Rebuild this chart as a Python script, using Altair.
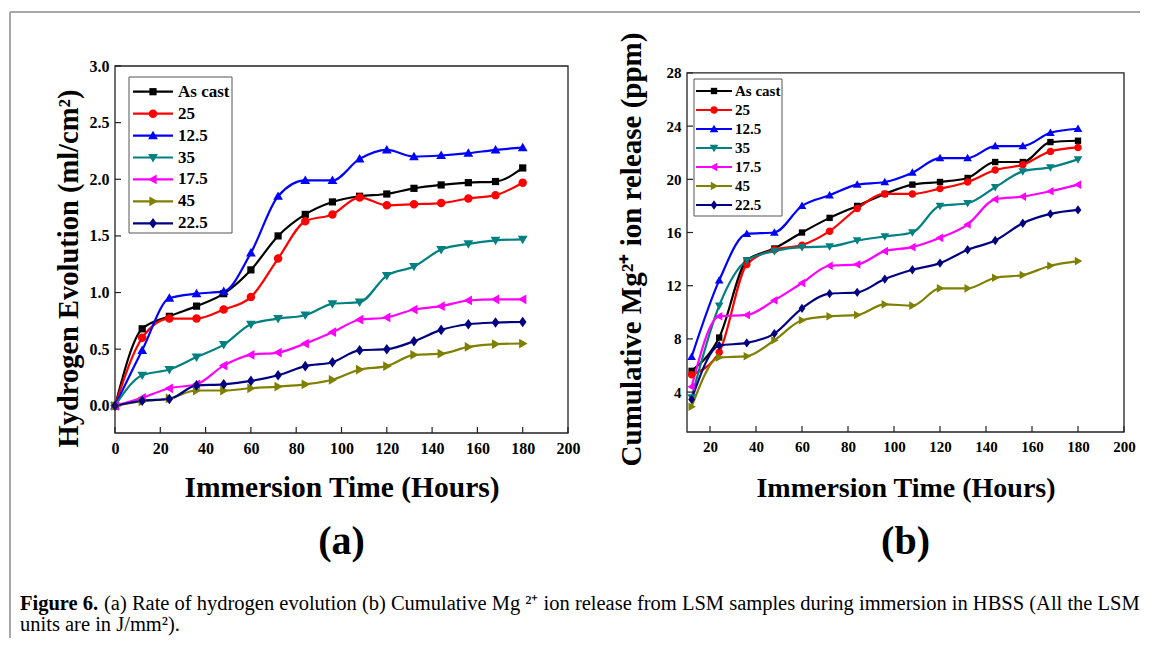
import altair as alt
import pandas as pd

FONT = "Liberation Serif"

series = ["As cast", "25", "12.5", "35", "17.5", "45", "22.5"]
series_colors = ["#000000", "#ff0000", "#0000ff", "#008080", "#ff00ff", "#808000", "#000080"]

# ---- panel (a): hydrogen evolution (ml/cm2) ----
time_a = [0, 12, 24, 36, 48, 60, 72, 84, 96, 108, 120, 132, 144, 156, 168, 180]
h2_as_cast = [0, 0.68, 0.79, 0.88, 0.99, 1.20, 1.50, 1.69, 1.80, 1.85, 1.87, 1.92, 1.95, 1.97, 1.98, 2.10]
h2_25 = [0, 0.60, 0.77, 0.77, 0.85, 0.96, 1.30, 1.63, 1.69, 1.84, 1.77, 1.78, 1.79, 1.83, 1.86, 1.97]
h2_12_5 = [0, 0.49, 0.95, 0.99, 1.01, 1.35, 1.85, 1.99, 1.99, 2.18, 2.26, 2.20, 2.21, 2.23, 2.26, 2.28]
h2_35 = [0, 0.27, 0.32, 0.43, 0.54, 0.72, 0.77, 0.80, 0.90, 0.915, 1.15, 1.23, 1.38, 1.43, 1.46, 1.47]
h2_17_5 = [0, 0.07, 0.155, 0.19, 0.355, 0.45, 0.47, 0.55, 0.65, 0.76, 0.78, 0.85, 0.88, 0.93, 0.94, 0.94]
h2_45 = [0, 0.04, 0.065, 0.135, 0.135, 0.155, 0.17, 0.19, 0.23, 0.32, 0.35, 0.45, 0.46, 0.52, 0.545, 0.55]
h2_22_5 = [0, 0.045, 0.06, 0.18, 0.19, 0.22, 0.27, 0.35, 0.385, 0.49, 0.50, 0.57, 0.67, 0.72, 0.735, 0.74]

# ---- panel (b): cumulative Mg2+ ion release (ppm) ----
time_b = [12, 24, 36, 48, 60, 72, 84, 96, 108, 120, 132, 144, 156, 168, 180]
mg_as_cast = [5.6, 8.1, 13.9, 14.8, 16.0, 17.1, 18.0, 18.9, 19.6, 19.8, 20.1, 21.3, 21.3, 22.8, 22.9]
mg_25 = [5.3, 7.0, 13.6, 14.7, 15.05, 16.1, 17.8, 18.9, 18.9, 19.3, 19.8, 20.7, 21.1, 22.1, 22.4]
mg_12_5 = [6.65, 12.4, 15.9, 16.0, 18.0, 18.8, 19.6, 19.8, 20.5, 21.6, 21.6, 22.5, 22.5, 23.5, 23.8]
mg_35 = [3.6, 10.5, 13.9, 14.6, 14.9, 14.95, 15.4, 15.7, 16.0, 18.0, 18.2, 19.4, 20.6, 20.9, 21.5]
mg_17_5 = [4.4, 9.7, 9.8, 10.9, 12.2, 13.5, 13.6, 14.6, 14.9, 15.6, 16.6, 18.5, 18.7, 19.1, 19.6]
mg_45 = [2.9, 6.6, 6.7, 7.9, 9.4, 9.7, 9.8, 10.6, 10.5, 11.8, 11.8, 12.6, 12.8, 13.5, 13.85]
mg_22_5 = [3.45, 7.5, 7.7, 8.4, 10.3, 11.4, 11.5, 12.5, 13.2, 13.7, 14.7, 15.4, 16.7, 17.4, 17.7]

x_ticks_a = [0, 20, 40, 60, 80, 100, 120, 140, 160, 180, 200]
y_ticks_a = [0.0, 0.5, 1.0, 1.5, 2.0, 2.5, 3.0]
x_ticks_b = [20, 40, 60, 80, 100, 120, 140, 160, 180, 200]
y_ticks_b = [4, 8, 12, 16, 20, 24, 28]

x_title = "Immersion Time (Hours)"
y_title_a = "Hydrogen Evolution (ml/cm²)"
y_title_b = "Cumulative Mg²⁺ ion release (ppm)"
caption_bold = "Figure 6."
caption_line1 = "(a) Rate of hydrogen evolution (b) Cumulative Mg ²⁺ ion release from LSM samples during immersion in HBSS (All the LSM"
caption_line2 = "units are in J/mm²)."

# marker outlines (square, circle, triangles up/down/left/right, diamond)
MARKERS = [
    "M-0.85,-0.85H0.85V0.85H-0.85Z",
    "M-1,0A1,1 0 1,0 1,0A1,1 0 1,0 -1,0Z",
    "M0,-1.15L1.15,0.85L-1.15,0.85Z",
    "M0,1.15L1.15,-0.85L-1.15,-0.85Z",
    "M-1.15,0L0.85,-1.15L0.85,1.15Z",
    "M1.15,0L-0.85,-1.15L-0.85,1.15Z",
    "M0,-1.25L0.9,0L0,1.25L-0.9,0Z",
]


def tidy(times, cols):
    rows = []
    for name, vals in zip(series, cols):
        for t, v in zip(times, vals):
            rows.append({"s": name, "t": t, "v": v})
    return pd.DataFrame(rows)


def panel(df, W, H, xdom, ydom, frame, xticks, yticks, yfmt, ytitle, ytpad, xtpad,
          label, label_off, msize, xtfs, ytfs, lab_fs, leg, ytitle_y=None):
    xs = alt.Scale(domain=xdom, nice=False, zero=False)
    ys = alt.Scale(domain=ydom, nice=False, zero=False)
    xaxis = alt.Axis(values=xticks, title=x_title, domain=False, ticks=False, tickSize=0,
                     grid=False, labelFont=FONT, labelFontWeight="bold", labelFontSize=lab_fs,
                     labelColor="black", labelPadding=7, labelFlush=False, labelOverlap=False,
                     titleFont=FONT, titleFontSize=xtfs, titleFontWeight="bold",
                     titleColor="black", titlePadding=xtpad)
    ykw = dict(values=yticks, format=yfmt, title=ytitle, domain=False, ticks=False,
               tickSize=0, grid=False, labelFont=FONT, labelFontWeight="bold",
               labelFontSize=lab_fs, labelColor="black", labelPadding=6,
               labelFlush=False, labelOverlap=False,
               titleFont=FONT, titleFontSize=ytfs, titleFontWeight="bold",
               titleColor="black", titlePadding=ytpad)
    if ytitle_y is not None:
        ykw["titleY"] = ytitle_y
    yaxis = alt.Axis(**ykw)
    X = alt.X("t:Q", scale=xs, axis=xaxis)
    Y = alt.Y("v:Q", scale=ys, axis=yaxis)
    C = alt.Color("s:N", scale=alt.Scale(domain=series, range=series_colors), legend=None)
    S = alt.Shape("s:N", scale=alt.Scale(domain=series, range=MARKERS), legend=None)
    base = alt.Chart(df)

    lines = base.mark_line(strokeWidth=2.2, interpolate="monotone").encode(
        x=X, y=Y, color=C, detail="s:N")
    points = base.mark_point(filled=True, size=msize, strokeWidth=0, opacity=1).encode(
        x=X, y=Y, color=C, shape=S)

    fr = pd.DataFrame({"t": [frame[0]], "t2": [frame[1]], "v": [frame[2]], "v2": [frame[3]]})
    box = alt.Chart(fr).mark_rect(fillOpacity=0, stroke="#222", strokeWidth=1.3).encode(
        x=X, x2=alt.X2("t2"), y=Y, y2=alt.Y2("v2"))
    xt = alt.Chart(pd.DataFrame({"t": xticks})).mark_rule(color="#222", strokeWidth=1.2).encode(
        x=X, y=alt.value(H), y2=alt.value(H - 6))
    yt = alt.Chart(pd.DataFrame({"v": yticks})).mark_rule(color="#222", strokeWidth=1.2).encode(
        y=Y, x=alt.value(0), x2=alt.value(6))
    plot = alt.layer(lines, points, box, xt, yt)

    # legend: one row per series, rows placed by a point scale
    (bx0, by0, bx1, by1, row0, row1, lx0, lx1, lab_x, lfs) = leg
    LY = alt.Y("s:N", scale=alt.Scale(type="point", domain=series, range=[row0, row1],
                                      padding=0), axis=None)
    ldf = pd.DataFrame({"s": series})
    lbox = alt.Chart(pd.DataFrame({"k": [0]})).mark_rect(
        fill="white", stroke="#555", strokeWidth=1).encode(
        x=alt.value(bx0), x2=alt.value(bx1), y=alt.value(by0), y2=alt.value(by1))
    lline = alt.Chart(ldf).mark_rule(strokeWidth=2.2).encode(
        x=alt.value(lx0), x2=alt.value(lx1), y=LY, color=C)
    lpt = alt.Chart(ldf).mark_point(filled=True, size=msize, strokeWidth=0, opacity=1).encode(
        x=alt.value((lx0 + lx1) / 2), y=LY, color=C, shape=S)
    ltxt = alt.Chart(ldf).mark_text(align="left", baseline="middle", font=FONT,
                                    fontWeight="bold", fontSize=lfs, color="black").encode(
        x=alt.value(lab_x), y=LY, text="s:N")
    legend_layer = alt.layer(lbox, lline, lpt, ltxt)

    return alt.layer(plot, legend_layer).resolve_scale(y="independent").properties(
        width=W, height=H,
        title=alt.TitleParams(label, orient="bottom", offset=label_off, fontSize=40,
                              font=FONT, fontWeight="bold", color="black", anchor="middle"))


df_a = tidy(time_a, [h2_as_cast, h2_25, h2_12_5, h2_35, h2_17_5, h2_45, h2_22_5])
df_b = tidy(time_b, [mg_as_cast, mg_25, mg_12_5, mg_35, mg_17_5, mg_45, mg_22_5])

left = panel(df_a, 453, 367, [0, 200], [-0.24, 3.0], (0, 200, -0.24, 3.0),
             x_ticks_a, y_ticks_a, ".1f", y_title_a, 6, 17, "(a)", 20, 72,
             29.5, 28.5, 16,
             (14, 11, 117, 167, 25.7, 157.3, 18, 58, 63, 17), ytitle_y=202)
right = panel(df_b, 437, 366, [10, 200], [1, 28.52], (10, 200, 1, 28),
              x_ticks_b, y_ticks_b, "d", y_title_b, 20, 20, "(b)", 20, 56,
              28, 29, 15,
              (7, 13, 95, 150, 25, 139, 9, 45, 48, 15))

# decoration cell: figure frame lines and caption
deco_df = pd.DataFrame({"k": [0]})
deco_base = alt.Chart(deco_df)
top_line = deco_base.mark_rule(color="#8a8a8a", strokeWidth=1.5).encode(
    x=alt.value(-105), x2=alt.value(1025), y=alt.value(-431))
left_line = deco_base.mark_rule(color="#8a8a8a", strokeWidth=1.5).encode(
    x=alt.value(-105), y=alt.value(-431), y2=alt.value(195))
cap_b = deco_base.mark_text(align="left", baseline="middle", font=FONT, fontSize=20.5,
                            fontWeight="bold", color="black").encode(
    x=alt.value(-95), y=alt.value(161), text=alt.value(caption_bold))
cap_1 = deco_base.mark_text(align="left", baseline="middle", font=FONT, fontSize=20.5,
                            color="black").encode(
    x=alt.value(-11), y=alt.value(161), text=alt.value(caption_line1))
cap_2 = deco_base.mark_text(align="left", baseline="middle", font=FONT, fontSize=20.5,
                            color="black").encode(
    x=alt.value(-95), y=alt.value(182), text=alt.value(caption_line2))
deco = alt.layer(top_line, left_line, cap_b, cap_1, cap_2).properties(width=1, height=1)

chart = alt.concat(
    left, right, deco, columns=2, spacing={"row": 10, "column": 119}, bounds="flush"
).resolve_scale(
    color="independent", shape="independent"
).properties(
    padding={"left": 0, "top": 2, "right": 0, "bottom": 0}
).configure(background="white", font=FONT).configure_view(stroke="transparent")

chart.save("out.html", embed_options={"renderer": "svg", "actions": False})
